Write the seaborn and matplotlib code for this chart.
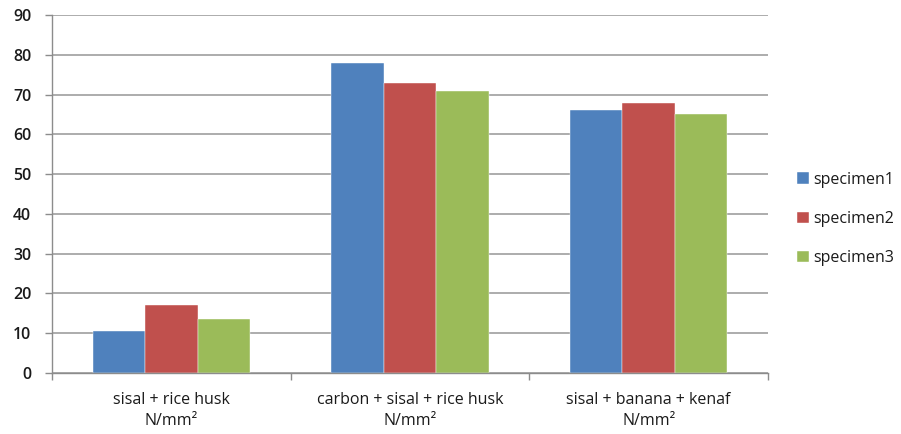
import matplotlib
matplotlib.use("Agg")
import matplotlib.pyplot as plt
import seaborn as sns
import pandas as pd
from matplotlib.ticker import FixedLocator

categories = ["sisal + rice husk\nN/mm²",
              "carbon + sisal + rice husk\nN/mm²",
              "sisal + banana + kenaf\nN/mm²"]
series = ["specimen1", "specimen2", "specimen3"]
specimen1 = [10.5, 78, 66]
specimen2 = [17, 73, 68]
specimen3 = [13.5, 71, 65]
y_ticks = [0, 10, 20, 30, 40, 50, 60, 70, 80, 90]

colors = ["#4F81BD", "#C0504D", "#9BBB59"]

rows = []
for name, vals in zip(series, [specimen1, specimen2, specimen3]):
    for cat, v in zip(categories, vals):
        rows.append({"category": cat, "series": name, "value": v})
df = pd.DataFrame(rows)

sns.set_theme(style="white")
plt.rcParams["font.family"] = ["Open Sans", "DejaVu Sans"]

fig = plt.figure(figsize=(9.01, 4.34), dpi=100)
ax = fig.add_axes([52 / 901, 1 - 373 / 434, (768 - 52) / 901, (373 - 15) / 434])

sns.barplot(data=df, x="category", y="value", hue="series", order=categories,
            hue_order=series, palette=colors, width=0.66, gap=0,
            saturation=1, edgecolor="#ffffff", linewidth=0.3, ax=ax)

ax.set_xlim(-0.5, 2.5)
ax.set_ylim(0, 90)
ax.set_yticks(y_ticks)
ax.set_yticklabels([str(t) for t in y_ticks], fontsize=11.5, color="#1a1a1a",
                   fontweight="semibold")
for lbl in ax.get_xticklabels():
    lbl.set_linespacing(1.35)
ax.tick_params(axis="x", which="major", length=0, pad=14, labelsize=11.5,
               labelcolor="#1a1a1a")
ax.xaxis.set_minor_locator(FixedLocator([-0.5, 0.5, 1.5, 2.5]))
ax.tick_params(axis="x", which="minor", length=5, width=1, color="#8c8c8c",
               direction="out", bottom=True)
ax.tick_params(axis="y", which="major", length=5, width=1, color="#8c8c8c",
               direction="out", left=True, pad=10)

ax.set_axisbelow(True)
ax.yaxis.grid(True, color="#a6a6a6", linewidth=1.3)
ax.xaxis.grid(False)
for s in ["top", "right"]:
    ax.spines[s].set_visible(False)
for s in ["left", "bottom"]:
    ax.spines[s].set_color("#8c8c8c")
    ax.spines[s].set_linewidth(1)
ax.set_xlabel("")
ax.set_ylabel("")

leg = ax.legend(loc="center left", bbox_to_anchor=(797 / 901, 1 - 219 / 434),
                bbox_transform=fig.transFigure, frameon=False, fontsize=11.5,
                handlelength=0.75, handleheight=0.75, handletextpad=0.25,
                labelspacing=1.45, borderaxespad=0, borderpad=0)
for t in leg.get_texts():
    t.set_color("#1a1a1a")

fig.savefig("out.png", dpi=100)
